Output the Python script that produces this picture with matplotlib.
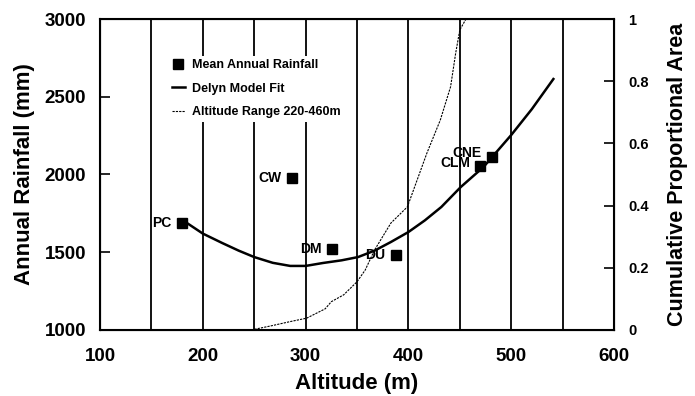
"""
Annual rainfall vs altitude, with the Delyn model fit and the cumulative
proportional area of the altitude range (right axis).
"""
import matplotlib
matplotlib.use("Agg")
import matplotlib.pyplot as plt, numpy as np
from matplotlib.ticker import MultipleLocator

plt.rcParams["font.family"] = ["Liberation Sans", "DejaVu Sans"]
plt.rcParams["font.weight"] = "bold"

# gauges: name, altitude (m), mean annual rainfall (mm)
site_names = ["PC", "CW", "DM", "DU", "CLM", "CNE"]
site_alt = [180, 287, 326, 388, 470, 481]
site_rain = [1686, 1979, 1519, 1482, 2055, 2111]

# Delyn model fit
fit_alt = [185, 200, 219, 235, 250, 268, 285, 300, 317, 335, 351, 367,
           383, 400, 416, 432, 451, 473, 500, 520, 541]
fit_rain = [1686, 1620, 1559, 1510, 1469, 1432, 1412, 1412, 1431, 1448,
            1469, 1510, 1566, 1630, 1705, 1791, 1920, 2048, 2254, 2420, 2614]

# cumulative proportional area of the catchment, 220-460 m
cum_alt = [247, 266, 285, 301, 319, 325, 337, 350, 358, 367, 383, 399,
           418, 431, 441, 446, 450, 456]
cum_area = [0.0, 0.013, 0.027, 0.038, 0.068, 0.091, 0.113, 0.155, 0.193,
            0.257, 0.344, 0.396, 0.569, 0.675, 0.782, 0.891, 0.965, 1.0]

# label offsets (points) for the gauge names
label_dy = {"CLM": 2, "CNE": 3}


fig = plt.figure(figsize=(6.95, 3.96), dpi=100)
ax = fig.add_axes([0.1439, 0.1667, 0.7396, 0.7853])

ax.set_xlim(100, 600)
ax.set_ylim(1000, 3000)
ax.xaxis.set_major_locator(MultipleLocator(100))
ax.xaxis.set_minor_locator(MultipleLocator(50))
ax.yaxis.set_major_locator(MultipleLocator(500))
ax.grid(axis="x", which="both", color="black", linewidth=1.3)
ax.set_axisbelow(True)

ax.tick_params(axis="x", which="both", length=0, labelsize=13.5, pad=13)
ax.tick_params(axis="y", direction="in", length=7, width=1.2,
               labelsize=13.5, pad=10)
for s in ax.spines.values():
    s.set_linewidth(1.5)

h_pts, = ax.plot(site_alt, site_rain, "s", color="black", markersize=7,
                 label="Mean Annual Rainfall", zorder=4)
h_fit, = ax.plot(fit_alt, fit_rain, "-", color="black", linewidth=1.8,
                 label="Delyn Model Fit", zorder=3)

for name, xa, yr in zip(site_names, site_alt, site_rain):
    ax.annotate(name, (xa, yr), xytext=(-7.5, label_dy.get(name, 0)),
                textcoords="offset points", ha="right", va="center",
                fontsize=10, fontweight="bold")

ax.set_xlabel("Altitude (m)", fontsize=16, fontweight="bold", labelpad=6)
ax.set_ylabel("Annual Rainfall (mm)", fontsize=16, fontweight="bold",
              labelpad=7)

ax2 = ax.twinx()
ax2.set_ylim(0, 1)
ax2.set_yticks([0, 0.2, 0.4, 0.6, 0.8, 1])
ax2.set_yticklabels(["0", "0.2", "0.4", "0.6", "0.8", "1"])
ax2.tick_params(axis="y", direction="in", length=7, width=1.2,
                labelsize=10.5, pad=10)
h_cum, = ax2.plot(cum_alt, cum_area, color="black", linewidth=0.8,
                  linestyle=(0, (2, 1)), label="Altitude Range 220-460m")
ax2.set_ylabel("Cumulative Proportional Area", fontsize=15.5,
               fontweight="bold", labelpad=13)

leg = ax2.legend([h_pts, h_fit, h_cum],
                 ["Mean Annual Rainfall", "Delyn Model Fit",
                  "Altitude Range 220-460m"],
                 loc="upper left", bbox_to_anchor=(0.132, 0.882),
                 prop={"size": 9, "weight": "bold"}, frameon=True,
                 fancybox=False, edgecolor="none", facecolor="white",
                 framealpha=1, handlelength=1.1, handletextpad=0.5,
                 labelspacing=0.9, borderaxespad=0, borderpad=0.3)
leg.set_zorder(10)

fig.savefig("out.png", dpi=100)
